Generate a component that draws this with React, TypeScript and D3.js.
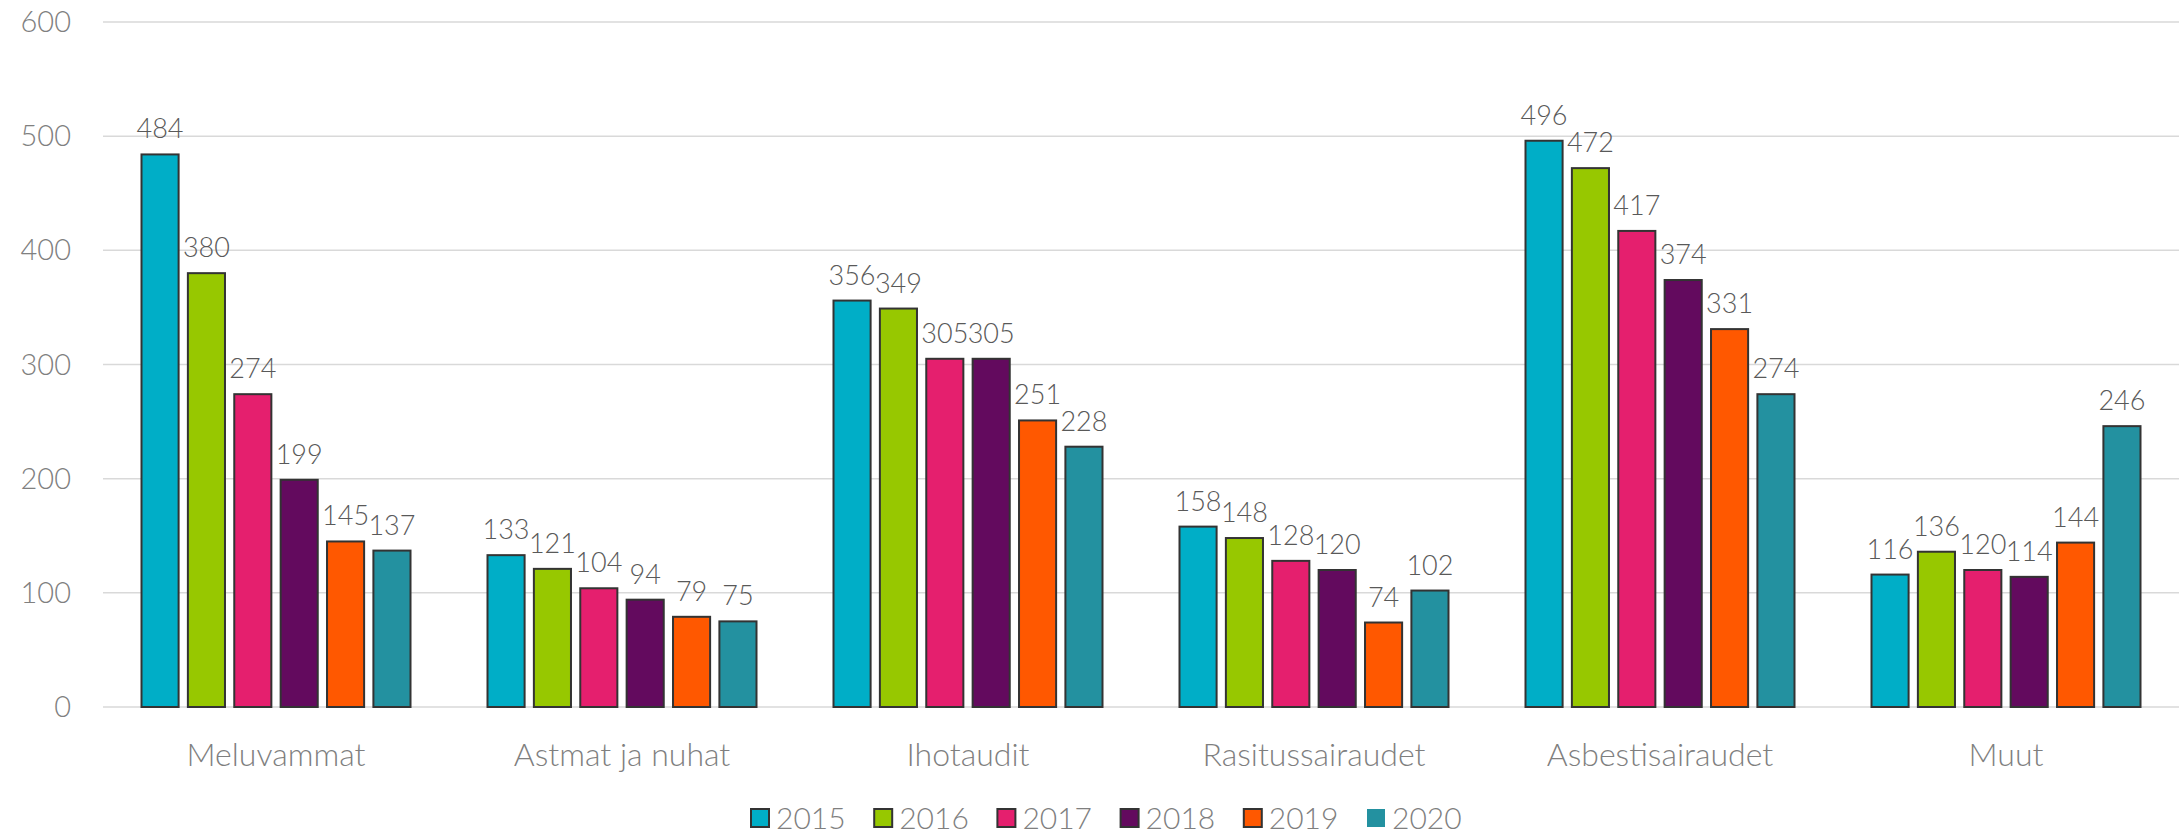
import React from 'react';
import * as d3 from 'd3';

const categories = ['Meluvammat', 'Astmat ja nuhat', 'Ihotaudit', 'Rasitussairaudet', 'Asbestisairaudet', 'Muut'];
const years = ['2015', '2016', '2017', '2018', '2019', '2020'];
const colors = ['#00AEC7', '#97C800', '#E51F6E', '#630A5E', '#FF5800', '#2391A0'];

const v2015 = [484, 133, 356, 158, 496, 116];
const v2016 = [380, 121, 349, 148, 472, 136];
const v2017 = [274, 104, 305, 128, 417, 120];
const v2018 = [199, 94, 305, 120, 374, 114];
const v2019 = [145, 79, 251, 74, 331, 144];
const v2020 = [137, 75, 228, 102, 274, 246];
const series = [v2015, v2016, v2017, v2018, v2019, v2020];

const yTicks = [0, 100, 200, 300, 400, 500, 600];

const W = 2181;
const H = 833;
const FONT = 'Lato, "Noto Sans", sans-serif';

export default function App() {
    const left = 103;
    const right = 2179;

    const x = d3.scaleBand().domain(categories).range([left, right]).paddingInner(0).paddingOuter(0);
    const xSub = d3.scaleBand().domain(years)
        .range([38.5, x.bandwidth() - 38.5])
        .paddingInner(0.2)
        .paddingOuter(0);
    const y = d3.scaleLinear().domain([0, 600]).range([707, 22]);

    return (
        <svg width={W} height={H} style={{ position: 'absolute', left: 0, top: 0, fontFamily: FONT }}>
            <rect width={W} height={H} fill="#fff" />
            {/* gridlines + y labels */}
            {yTicks.map(t => (
                <g key={t}>
                    <line x1={left} x2={right} y1={y(t)} y2={y(t)} stroke="#d9d9d9" strokeWidth={1.5} />
                    <text x={71} y={y(t)} dy="0.35em" textAnchor="end" fontSize={29} fontWeight={300} fill="#808080">{t}</text>
                </g>
            ))}

            {/* bars */}
            {categories.map((c, ci) => (
                <g key={c} transform={`translate(${x(c)},0)`}>
                    {years.map((yr, si) => {
                        const v = series[si][ci];
                        const bx = xSub(yr) as number;
                        return (
                            <g key={yr}>
                                <rect x={bx} y={y(v)} width={xSub.bandwidth()} height={y(0) - y(v)}
                                    fill={colors[si]} stroke="#333" strokeWidth={2} />
                                <text x={bx + xSub.bandwidth() / 2} y={y(v) - 16} textAnchor="middle"
                                    fontSize={27} fontWeight={300} fill="#595959">{v}</text>
                            </g>
                        );
                    })}
                    <text x={x.bandwidth() / 2} y={755} dy="0.35em" textAnchor="middle" fontSize={32} fontWeight={300} fill="#7f7f7f">{c}</text>
                </g>
            ))}

            {/* legend */}
            {years.map((yr, i) => {
                const lx = 751 + i * 123.2;
                return (
                    <g key={yr} transform={`translate(${lx},818)`}>
                        <rect x={0} y={-9} width={18} height={18} fill={colors[i]}
                            stroke={i === 5 ? 'none' : '#333'} strokeWidth={2} />
                        <text x={25} y={0} dy="0.35em" fontSize={30} fontWeight={300} fill="#7f7f7f">{yr}</text>
                    </g>
                );
            })}
        </svg>
    );
}
